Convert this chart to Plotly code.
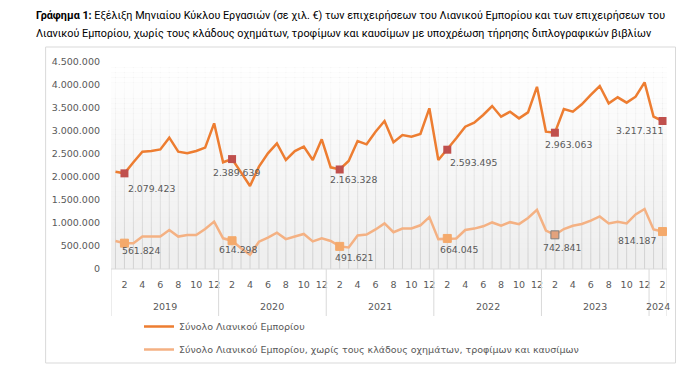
import plotly.graph_objects as go

# ---------------- data ----------------
years = [2019, 2020, 2021, 2022, 2023, 2024]
months = [(y, m) for y in years for m in range(1, 13) if not (y == 2024 and m > 2)]

total = [2115000, 2079423, 2320000, 2550000, 2565000, 2600000, 2855000, 2550000, 2515000, 2565000, 2640000, 3167000,
         2320000, 2389639, 2100000, 1805000, 2225000, 2514000, 2732000, 2370000, 2565000, 2660000, 2370000, 2819000,
         2210000, 2163328, 2348000, 2783000, 2710000, 2985000, 3217000, 2754000, 2913000, 2877000, 2935000, 3493000,
         2370000, 2593495, 2841000, 3094000, 3181000, 3348000, 3543000, 3311000, 3420000, 3275000, 3406000, 3960000,
         2985000, 2963063, 3478000, 3420000, 3580000, 3783000, 3978000, 3601000, 3732000, 3616000, 3746000, 4058000,
         3311000, 3217311]

excl = [609000, 561824, 560000, 705000, 705000, 705000, 848000, 705000, 740000, 740000, 870000, 1030000,
        667000, 614298, 450000, 310000, 594000, 681000, 790000, 650000, 705000, 761000, 600000, 667000,
        609000, 491621, 470000, 730000, 750000, 860000, 990000, 800000, 880000, 880000, 950000, 1130000,
        650000, 664045, 665000, 848000, 878000, 928000, 1012000, 942000, 1018000, 975000, 1110000, 1285000,
        835000, 742841, 868000, 940000, 978000, 1050000, 1142000, 990000, 1025000, 990000, 1185000, 1305000,
        860000, 814187]

name_total = "Σύνολο Λιανικού Εμπορίου"
name_excl = "Σύνολο Λιανικού Εμπορίου, χωρίς τους κλάδους οχημάτων, τροφίμων και καυσίμων"

title_bold = "Γράφημα 1:"
title_l1 = " Εξέλιξη Μηνιαίου Κύκλου Εργασιών (σε χιλ. €) των επιχειρήσεων του Λιανικού Εμπορίου και των επιχειρήσεων του"
title_l2 = "Λιανικού Εμπορίου, χωρίς τους κλάδους οχημάτων, τροφίμων και καυσίμων με υποχρέωση τήρησης διπλογραφικών βιβλίων"

# label offsets (pixels) for the February markers: (dx, dy_down)
off_total = [(27, 15), (4, 13), (14, 10), (26, 13), (14, 12), (-23, 9)]
off_excl = [(17, 7), (6, 9), (15, 11), (12, 11.5), (8, 13), (-25, 8.5)]

# ---------------- layout constants ----------------
W, H = 693, 373
L, R, T, B = 110.5, 693 - 667.5, 62, 373 - 269
PW, PH = W - L - R, H - T - B
TXT = "#595959"
FONT = "DejaVu Sans"

def px_x(p):
    return (p - L) / PW

def px_y(p):
    return (H - B - p) / PH

x = list(range(len(months)))
feb_idx = [i for i, (y, m) in enumerate(months) if m == 2]
tick_idx = [i for i, (y, m) in enumerate(months) if m % 2 == 0]
tick_txt = [str(months[i][1]) for i in tick_idx]

def fmt(v):
    return f"{v:,}".replace(",", ".")

fig = go.Figure()
fig.add_trace(go.Scatter(x=x, y=total, mode="lines", name=name_total,
                         line=dict(color="#ED7D31", width=2.5), legend="legend"))
fig.add_trace(go.Scatter(x=x, y=excl, mode="lines", name=name_excl,
                         line=dict(color="#F4B183", width=2.5), legend="legend2"))

fig.add_trace(go.Scatter(x=feb_idx, y=[total[i] for i in feb_idx], mode="markers", showlegend=False,
                         marker=dict(symbol="square", size=8, color="#C0504D", line=dict(width=0))))
ex_colors = ["#F4A96B"] * len(feb_idx)
ex_lines = ["#F4A96B"] * len(feb_idx)
ex_colors[4] = "#E3A27C"
ex_lines[4] = "#7F7F7F"
fig.add_trace(go.Scatter(x=feb_idx, y=[excl[i] for i in feb_idx], mode="markers", showlegend=False,
                         marker=dict(symbol="square", size=8, color=ex_colors,
                                     line=dict(width=1, color=ex_lines))))

ann = []
for k, i in enumerate(feb_idx):
    dx, dy = off_total[k]
    ann.append(dict(x=i, y=total[i], xref="x", yref="y", text=fmt(total[i]), showarrow=False,
                    xshift=dx, yshift=-dy, font=dict(family=FONT, size=9.3, color=TXT)))
    dx, dy = off_excl[k]
    ann.append(dict(x=i, y=excl[i], xref="x", yref="y", text=fmt(excl[i]), showarrow=False,
                    xshift=dx, yshift=-dy, font=dict(family=FONT, size=9.3, color=TXT)))

shapes = []
# vertical gridlines at each month (drawn below traces)
for i in x:
    shapes.append(dict(type="line", xref="x", yref="y domain", x0=i, x1=i, y0=0, y1=1,
                       layer="below", line=dict(color="#D2D2D2", width=1)))
# gradient: white bands fading over gridlines / grey background
NB = 40
for b in range(NB):
    shapes.append(dict(type="rect", xref="x domain", yref="y domain", x0=0, x1=1,
                       y0=1 - (b + 1) / NB, y1=1 - b / NB, layer="below",
                       fillcolor="white", opacity=max(0.0, 1 - (b + 0.5) / NB * 1.05),
                       line=dict(width=0)))

# year labels and separators
for y in years:
    idx = [i for i, (yy, m) in enumerate(months) if yy == y]
    c = (idx[0] + idx[-1]) / 2
    ann.append(dict(x=c, y=0, xref="x", yref="paper", text=str(y), showarrow=False,
                    yanchor="middle", yshift=-37, font=dict(family=FONT, size=9.5, color=TXT)))
    shapes.append(dict(type="line", xref="x", yref="paper", x0=idx[0] - 0.5, x1=idx[0] - 0.5,
                       y0=0, y1=px_y(316), line=dict(color="#D9D9D9", width=1)))
shapes.append(dict(type="line", xref="x", yref="paper", x0=len(months) - 0.5, x1=len(months) - 0.5,
                   y0=0, y1=px_y(316), line=dict(color="#D9D9D9", width=1)))

# bottom axis line
shapes.append(dict(type="line", xref="paper", yref="paper", x0=0, x1=1, y0=0, y1=0,
                   line=dict(color="#D9D9D9", width=1)))
# chart border
shapes.append(dict(type="rect", xref="paper", yref="paper", x0=px_x(45), x1=px_x(676),
                   y0=px_y(363), y1=px_y(47), line=dict(color="#D9D9D9", width=1)))

# title
ann.append(dict(xref="paper", yref="paper", x=px_x(33), y=px_y(16), xanchor="left", yanchor="middle",
                text=f"<b>{title_bold}</b>{title_l1}", showarrow=False,
                font=dict(family="Roboto", size=10.8, color="#000000")))
ann.append(dict(xref="paper", yref="paper", x=px_x(33), y=px_y(33), xanchor="left", yanchor="middle",
                text=title_l2, showarrow=False,
                font=dict(family="Roboto", size=10.8, color="#000000")))

fig.update_layout(
    width=W, height=H, margin=dict(l=L, r=R, t=T, b=B, pad=0, autoexpand=False),
    paper_bgcolor="white", plot_bgcolor="#EFEFEF",
    separators=",.",
    font=dict(family=FONT, size=9.5, color=TXT),
    annotations=ann, shapes=shapes,
    legend=dict(xref="container", yref="container", x=139 / W, y=1 - 312 / H,
                xanchor="left", yanchor="top", itemwidth=30,
                bgcolor="rgba(0,0,0,0)", font=dict(family=FONT, size=9.5, color=TXT)),
    legend2=dict(xref="container", yref="container", x=139 / W, y=1 - 335 / H,
                 xanchor="left", yanchor="top", itemwidth=30,
                 bgcolor="rgba(0,0,0,0)", font=dict(family=FONT, size=9.5, color=TXT)),
    xaxis=dict(range=[-0.5, len(months) - 0.5], tickmode="array", tickvals=tick_idx, ticktext=tick_txt,
               showgrid=False, zeroline=False, showline=False, automargin=False,
               ticks="", ticklabelstandoff=8, tickfont=dict(family=FONT, size=9.5, color=TXT)),
    yaxis=dict(range=[0, 4500000], dtick=500000, tickformat=",d", showgrid=False, zeroline=False,
               showline=False, automargin=False, ticks="", ticklabelstandoff=10,
               tickfont=dict(family=FONT, size=9.5, color=TXT)),
)

fig.write_html("out.html", config={"displayModeBar": False},
               post_script="document.body.style.margin='0';document.body.style.overflow='hidden';")
